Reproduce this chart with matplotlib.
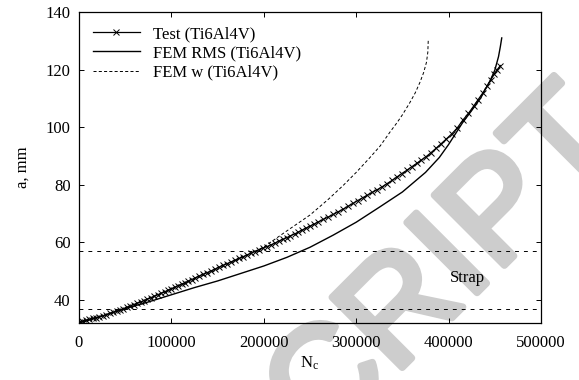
import numpy as np
import matplotlib
matplotlib.use("Agg")
import matplotlib.pyplot as plt
import matplotlib.patheffects as pe

plt.rcParams['font.family'] = ['Liberation Serif', 'DejaVu Serif']
plt.rcParams['mathtext.fontset'] = 'custom'
plt.rcParams['mathtext.rm'] = 'Liberation Serif'
plt.rcParams['mathtext.it'] = 'Liberation Serif:italic'
plt.rcParams['lines.scale_dashes'] = False

# crack length a (mm) vs number of cycles Nc
test_n = [0, 3700, 7300, 11100, 14800, 18600, 22200, 25900, 29500, 33300, 37000, 40800,
          44400, 48100, 51700, 55500, 59200, 63000, 66600, 70300, 74000, 77600, 81400,
          85100, 88800, 92600, 96200, 99900, 103600, 107200, 111000, 114700, 118400,
          122000, 125800,
          130000, 134300, 138700, 142900, 147200, 151500, 155900, 160100, 164400, 168700,
          173000, 177400, 181600, 185900, 190200, 194600, 198800, 203100, 207400, 211800,
          216000, 220300, 224600, 228900, 233300, 237500, 241800, 246100, 250400, 254800,
          259000,
          264500, 269800, 275200, 280400, 285700, 291000, 296400, 301600, 306900, 312200,
          317600, 322800, 328100, 333400, 338700, 344100, 349300, 354600, 359900, 365300,
          370500, 375800, 381100, 386500, 391700,
          397500, 403500, 409500, 415500, 421500, 427000, 432000, 437000, 441500, 445500,
          449000, 452500, 456000]
test_a = [32.4, 32.7, 33.0, 33.3, 33.6, 33.9, 34.2, 34.5, 34.9, 35.3, 35.7, 36.1,
          36.5, 36.9, 37.5, 37.9, 38.4, 38.9, 39.3, 39.8, 40.3, 40.8, 41.3,
          41.8, 42.3, 42.8, 43.4, 43.9, 44.4, 45.0, 45.5, 46.0, 46.6,
          47.1, 47.7,
          48.3, 48.9, 49.5, 50.1, 50.7, 51.4, 52.0, 52.6, 53.2, 53.8,
          54.4, 55.0, 55.6, 56.2, 56.8, 57.4, 58.0, 58.5, 59.1, 59.7,
          60.4, 61.0, 61.6, 62.3, 62.9, 63.6, 64.3, 65.0, 65.7, 66.4,
          67.1,
          68.0, 68.8, 69.7, 70.6, 71.5, 72.5, 73.5, 74.5, 75.5, 76.4,
          77.4, 78.3, 79.3, 80.4, 81.5, 82.7, 83.9, 85.0, 86.2, 87.4,
          88.6, 89.8, 91.2, 92.7, 94.2,
          95.9, 97.7, 99.8, 102.5, 104.8, 107.3, 109.6, 111.9, 114.2, 116.4,
          118.3, 119.9, 121.4]

rms_n = [0, 25000, 50000, 75000, 100000, 125000, 150000, 175000, 200000, 225000,
         250000, 275000, 300000, 325000, 350000, 375000, 390000, 400000, 415000,
         425000, 435000, 445000, 450000, 454000, 456000, 457500]
rms_a = [32.0, 34.4, 37.0, 39.3, 41.8, 44.3, 46.6, 49.2, 51.8, 54.8,
         58.3, 62.5, 67.0, 72.2, 77.5, 84.3, 89.5, 94.0, 101.5,
         105.8, 110.3, 116.2, 119.8, 124.5, 128.0, 131.0]

w_n = [0, 50000, 100000, 150000, 200000, 225000, 250000, 270000, 286000, 300000,
       315000, 326000, 337000, 344000, 350000, 358000, 364000, 369000, 373000,
       376000, 377500, 378000]
w_a = [32.0, 37.0, 43.7, 50.6, 58.4, 64.0, 69.5, 75.0, 79.8, 84.3,
       89.5, 93.5, 98.5, 101.5, 104.3, 108.5, 112.0, 115.6, 119.0,
       122.5, 126.0, 130.5]

strap_levels = [57, 37]

fig = plt.figure(figsize=(5.79, 3.8), dpi=100)
ax = fig.add_axes([0.1364, 0.15, 0.798, 0.8184])
ax.set_facecolor('none')

# light background stamp, sits under the axes
wm_color = '#cdcdcd'
fig.text(0.772, 0.29, 'CRIPT', rotation=45, fontsize=104,
         family='Liberation Sans', color=wm_color, ha='center', va='center',
         rotation_mode='anchor', zorder=-1,
         path_effects=[pe.withStroke(linewidth=5, foreground=wm_color)])

ax.plot(test_n, test_a, color='black', lw=0.9, marker='x', ms=4, mew=0.7,
        label='Test (Ti6Al4V)')
ax.plot(rms_n, rms_a, color='black', lw=1.0, label='FEM RMS (Ti6Al4V)')
ax.plot(w_n, w_a, color='black', lw=0.7, ls=(0, (2.2, 1.6)), label='FEM w (Ti6Al4V)')

for lvl in strap_levels:
    ax.axhline(lvl, color='black', lw=0.7, ls=(0, (2.8, 3.6)))
ax.text(420000, 47.7, 'Strap', fontsize=12, ha='center', va='center')

ax.set_xlim(0, 500000)
ax.set_ylim(32, 140)
ax.set_xticks([0, 100000, 200000, 300000, 400000, 500000])
ax.set_xticklabels(['0', '100000', '200000', '300000', '400000', '500000'])
ax.set_yticks([40, 60, 80, 100, 120, 140])
ax.tick_params(direction='in', length=3.6, width=0.7, top=True, right=True,
               labelsize=12)
ax.tick_params(axis='x', pad=8.5)
ax.tick_params(axis='y', pad=6)
for s in ax.spines.values():
    s.set_linewidth(0.9)

ax.set_xlabel(r'$\mathrm{N_c}$', fontsize=12, labelpad=3)
ax.set_ylabel('a, mm', fontsize=12, labelpad=11)

ax.legend(loc='upper left', bbox_to_anchor=(93 / 579, 1 - 26 / 380),
          bbox_transform=fig.transFigure, frameon=False, fontsize=12,
          borderpad=0, borderaxespad=0, handlelength=2.8, handletextpad=0.8,
          labelspacing=0.2)

fig.savefig('out.png', dpi=100)
